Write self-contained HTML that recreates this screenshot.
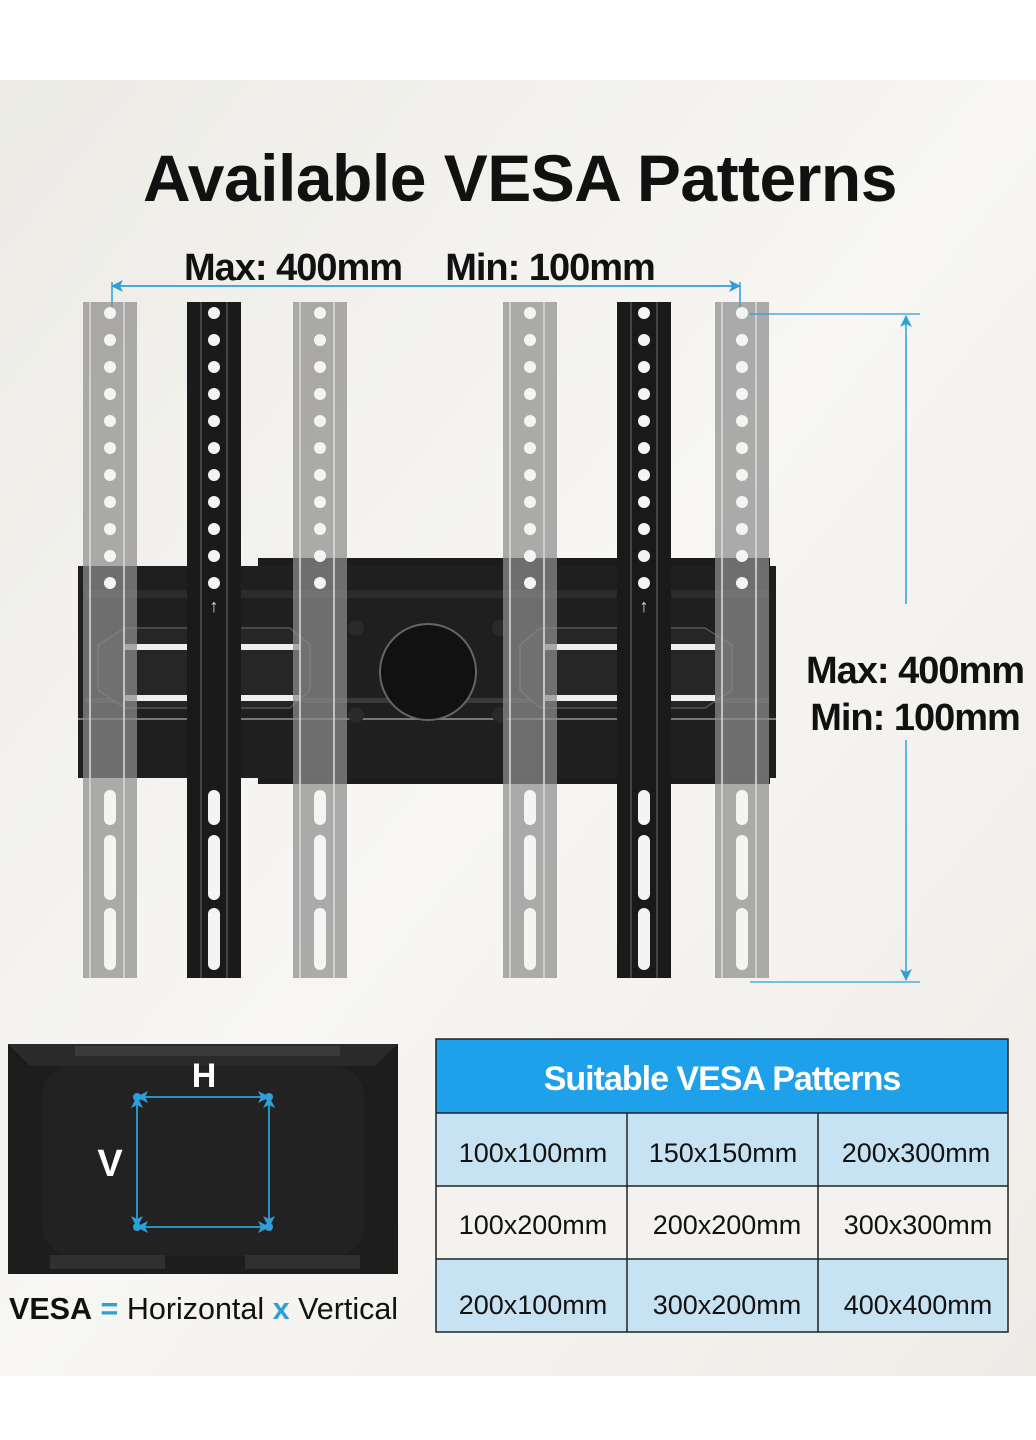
<!DOCTYPE html>
<html><head><meta charset="utf-8"><style>
html,body{margin:0;padding:0;width:1036px;height:1440px;overflow:hidden;background:#fff;font-family:"Liberation Sans",sans-serif}
</style></head><body>
<svg width="1036" height="1440" viewBox="0 0 1036 1440" xmlns="http://www.w3.org/2000/svg" font-family="Liberation Sans, sans-serif">
<defs>
<linearGradient id="bg" x1="0" y1="0" x2="1" y2="1"><stop offset="0" stop-color="#ecebe6"/><stop offset="0.5" stop-color="#f7f6f3"/><stop offset="1" stop-color="#eeece7"/></linearGradient>
<marker id="ar" markerWidth="12" markerHeight="12" refX="11" refY="6" orient="auto" markerUnits="userSpaceOnUse"><path d="M0,0 L12,6 L0,12 L3,6 Z" fill="#2f9fd8"/></marker>
<g id="holes">
<circle cx="0" cy="313" r="6"/><circle cx="0" cy="340" r="6"/><circle cx="0" cy="367" r="6"/><circle cx="0" cy="394" r="6"/><circle cx="0" cy="421" r="6"/><circle cx="0" cy="448" r="6"/><circle cx="0" cy="475" r="6"/><circle cx="0" cy="502" r="6"/><circle cx="0" cy="529" r="6"/><circle cx="0" cy="556" r="6"/><circle cx="0" cy="583" r="6"/>
<rect x="-6" y="790" width="12" height="35" rx="6"/><rect x="-6" y="835" width="12" height="65" rx="6"/><rect x="-6" y="908" width="12" height="62" rx="6"/>
</g>
</defs>
<rect x="0" y="80" width="1036" height="1296" fill="url(#bg)"/>
<text x="520" y="201" text-anchor="middle" font-size="66" font-weight="bold" fill="#111" letter-spacing="-0.5">Available VESA Patterns</text>
<text x="293" y="280" text-anchor="middle" font-size="38" font-weight="bold" fill="#111" letter-spacing="-1">Max: 400mm</text>
<text x="550" y="280" text-anchor="middle" font-size="38" font-weight="bold" fill="#111" letter-spacing="-1">Min: 100mm</text>
<line x1="112" y1="286" x2="740" y2="286" stroke="#2f9fd8" stroke-width="1.5" marker-end="url(#ar)"/>
<line x1="740" y1="286" x2="112" y2="286" stroke="#2f9fd8" stroke-width="1.5" marker-end="url(#ar)"/>
<line x1="112" y1="282" x2="112" y2="313" stroke="#2f9fd8" stroke-width="1.5"/>
<line x1="740" y1="282" x2="740" y2="313" stroke="#2f9fd8" stroke-width="1.5"/>
<!-- bracket -->
<rect x="258" y="558" width="512" height="12" fill="#1c1c1c"/>
<rect x="258" y="770" width="512" height="14" fill="#1c1c1c"/>
<rect x="78" y="566" width="698" height="212" fill="#1f1f1f"/>
<rect x="85" y="590" width="684" height="8" fill="#2c2c2c"/>
<rect x="85" y="698" width="684" height="5" fill="#3a3a3a"/>
<rect x="78" y="718" width="698" height="2" fill="#777"/>
<path d="M125 628 L290 628 L310 645 L310 690 L290 708 L125 708 L98 690 L98 645 Z" fill="#262626" stroke="#555" stroke-width="1.5"/>
<path d="M540 628 L705 628 L732 645 L732 690 L705 708 L540 708 L520 690 L520 645 Z" fill="#262626" stroke="#555" stroke-width="1.5"/>
<rect x="125" y="644" width="175" height="6" fill="#eee"/><rect x="125" y="695" width="175" height="6" fill="#eee"/>
<rect x="545" y="644" width="170" height="6" fill="#eee"/><rect x="545" y="695" width="170" height="6" fill="#eee"/>
<circle cx="428" cy="672" r="48" fill="#111" stroke="#666" stroke-width="2"/>
<circle cx="356" cy="628" r="8" fill="#2a2a2a"/><circle cx="356" cy="715" r="8" fill="#2a2a2a"/>
<circle cx="500" cy="628" r="8" fill="#2a2a2a"/><circle cx="500" cy="715" r="8" fill="#2a2a2a"/>
<!-- light bars -->
<g opacity="0.72">
<rect x="83" y="302" width="54" height="676" fill="#8e8e8e"/>
<rect x="293" y="302" width="54" height="676" fill="#8e8e8e"/>
<rect x="503" y="302" width="54" height="676" fill="#8e8e8e"/>
<rect x="715" y="302" width="54" height="676" fill="#8e8e8e"/>
</g>
<g fill="#d8d8d8" opacity="0.8">
<rect x="89" y="302" width="2" height="676"/><rect x="123" y="302" width="2" height="676"/>
<rect x="299" y="302" width="2" height="676"/><rect x="333" y="302" width="2" height="676"/>
<rect x="509" y="302" width="2" height="676"/><rect x="543" y="302" width="2" height="676"/>
<rect x="721" y="302" width="2" height="676"/><rect x="755" y="302" width="2" height="676"/>
</g>
<g fill="#f4f4f2">
<use href="#holes" x="110"/><use href="#holes" x="320"/><use href="#holes" x="530"/><use href="#holes" x="742"/>
</g>
<!-- dark bars -->
<rect x="187" y="302" width="54" height="676" fill="#1a1a1a"/>
<rect x="617" y="302" width="54" height="676" fill="#1a1a1a"/>
<g fill="#444"><rect x="200" y="302" width="2" height="676"/><rect x="226" y="302" width="2" height="676"/><rect x="630" y="302" width="2" height="676"/><rect x="656" y="302" width="2" height="676"/></g>
<g fill="#f4f4f2"><use href="#holes" x="214"/><use href="#holes" x="644"/></g>
<text x="214" y="612" text-anchor="middle" font-size="18" font-weight="bold" fill="#ddd">↑</text>
<text x="644" y="612" text-anchor="middle" font-size="18" font-weight="bold" fill="#ddd">↑</text>
<!-- right dimension -->
<line x1="750" y1="314" x2="920" y2="314" stroke="#2f9fd8" stroke-width="1.2"/>
<line x1="750" y1="982" x2="920" y2="982" stroke="#2f9fd8" stroke-width="1.2"/>
<line x1="906" y1="604" x2="906" y2="316" stroke="#2f9fd8" stroke-width="1.5" marker-end="url(#ar)"/>
<line x1="906" y1="740" x2="906" y2="980" stroke="#2f9fd8" stroke-width="1.5" marker-end="url(#ar)"/>
<text x="915" y="683" text-anchor="middle" font-size="38" font-weight="bold" fill="#111" letter-spacing="-1">Max: 400mm</text>
<text x="915" y="730" text-anchor="middle" font-size="38" font-weight="bold" fill="#111" letter-spacing="-1">Min: 100mm</text>
<!-- TV back -->
<rect x="8" y="1044" width="390" height="230" fill="#1d1d1d"/>
<path d="M8 1044 L398 1044 L375 1066 L30 1066 Z" fill="#2a2a2a"/>
<rect x="42" y="1066" width="322" height="190" rx="30" fill="#222"/>
<rect x="75" y="1046" width="265" height="10" fill="#3a3a3a"/>
<rect x="50" y="1255" width="115" height="14" fill="#303030"/><rect x="245" y="1255" width="115" height="14" fill="#303030"/>
<line x1="137" y1="1097" x2="269" y2="1097" stroke="#2f9fd8" stroke-width="1.5" marker-end="url(#ar)"/>
<line x1="269" y1="1097" x2="137" y2="1097" stroke="#2f9fd8" stroke-width="1.5" marker-end="url(#ar)"/>
<line x1="137" y1="1227" x2="269" y2="1227" stroke="#2f9fd8" stroke-width="1.5" marker-end="url(#ar)"/>
<line x1="269" y1="1227" x2="137" y2="1227" stroke="#2f9fd8" stroke-width="1.5" marker-end="url(#ar)"/>
<line x1="137" y1="1097" x2="137" y2="1227" stroke="#2f9fd8" stroke-width="1.5" marker-end="url(#ar)"/>
<line x1="137" y1="1227" x2="137" y2="1097" stroke="#2f9fd8" stroke-width="1.5" marker-end="url(#ar)"/>
<line x1="269" y1="1097" x2="269" y2="1227" stroke="#2f9fd8" stroke-width="1.5" marker-end="url(#ar)"/>
<line x1="269" y1="1227" x2="269" y2="1097" stroke="#2f9fd8" stroke-width="1.5" marker-end="url(#ar)"/>
<g fill="#2f9fd8"><circle cx="137" cy="1097" r="4"/><circle cx="269" cy="1097" r="4"/><circle cx="137" cy="1227" r="4"/><circle cx="269" cy="1227" r="4"/></g>
<text x="204" y="1087" text-anchor="middle" font-size="34" font-weight="bold" fill="#fff">H</text>
<text x="110" y="1176" text-anchor="middle" font-size="38" font-weight="bold" fill="#fff">V</text>
<text x="9" y="1319" font-size="30.5" fill="#111"><tspan font-weight="bold">VESA</tspan> <tspan fill="#2f9fd8" font-weight="bold">=</tspan> Horizontal <tspan fill="#2f9fd8" font-weight="bold">x</tspan> Vertical</text>
<!-- table -->
<rect x="436" y="1039" width="572" height="74" fill="#1ea0ea"/>
<text x="722" y="1090" text-anchor="middle" font-size="34" font-weight="bold" fill="#fff" letter-spacing="-1">Suitable VESA Patterns</text>
<rect x="436" y="1113" width="572" height="73" fill="#c7e2f3"/>
<rect x="436" y="1186" width="572" height="73" fill="#f3f2ef"/>
<rect x="436" y="1259" width="572" height="73" fill="#c7e2f3"/>
<g stroke="#222" stroke-width="1.5" fill="none">
<rect x="436" y="1039" width="572" height="293"/>
<line x1="436" y1="1113" x2="1008" y2="1113"/><line x1="436" y1="1186" x2="1008" y2="1186"/><line x1="436" y1="1259" x2="1008" y2="1259"/>
<line x1="627" y1="1113" x2="627" y2="1332"/><line x1="818" y1="1113" x2="818" y2="1332"/>
</g>
<g font-size="27" fill="#111" text-anchor="middle">
<text x="533" y="1162">100x100mm</text><text x="723" y="1162">150x150mm</text><text x="916" y="1162">200x300mm</text>
<text x="533" y="1234">100x200mm</text><text x="727" y="1234">200x200mm</text><text x="918" y="1234">300x300mm</text>
<text x="533" y="1314">200x100mm</text><text x="727" y="1314">300x200mm</text><text x="918" y="1314">400x400mm</text>
</g>
</svg>
</body></html>
